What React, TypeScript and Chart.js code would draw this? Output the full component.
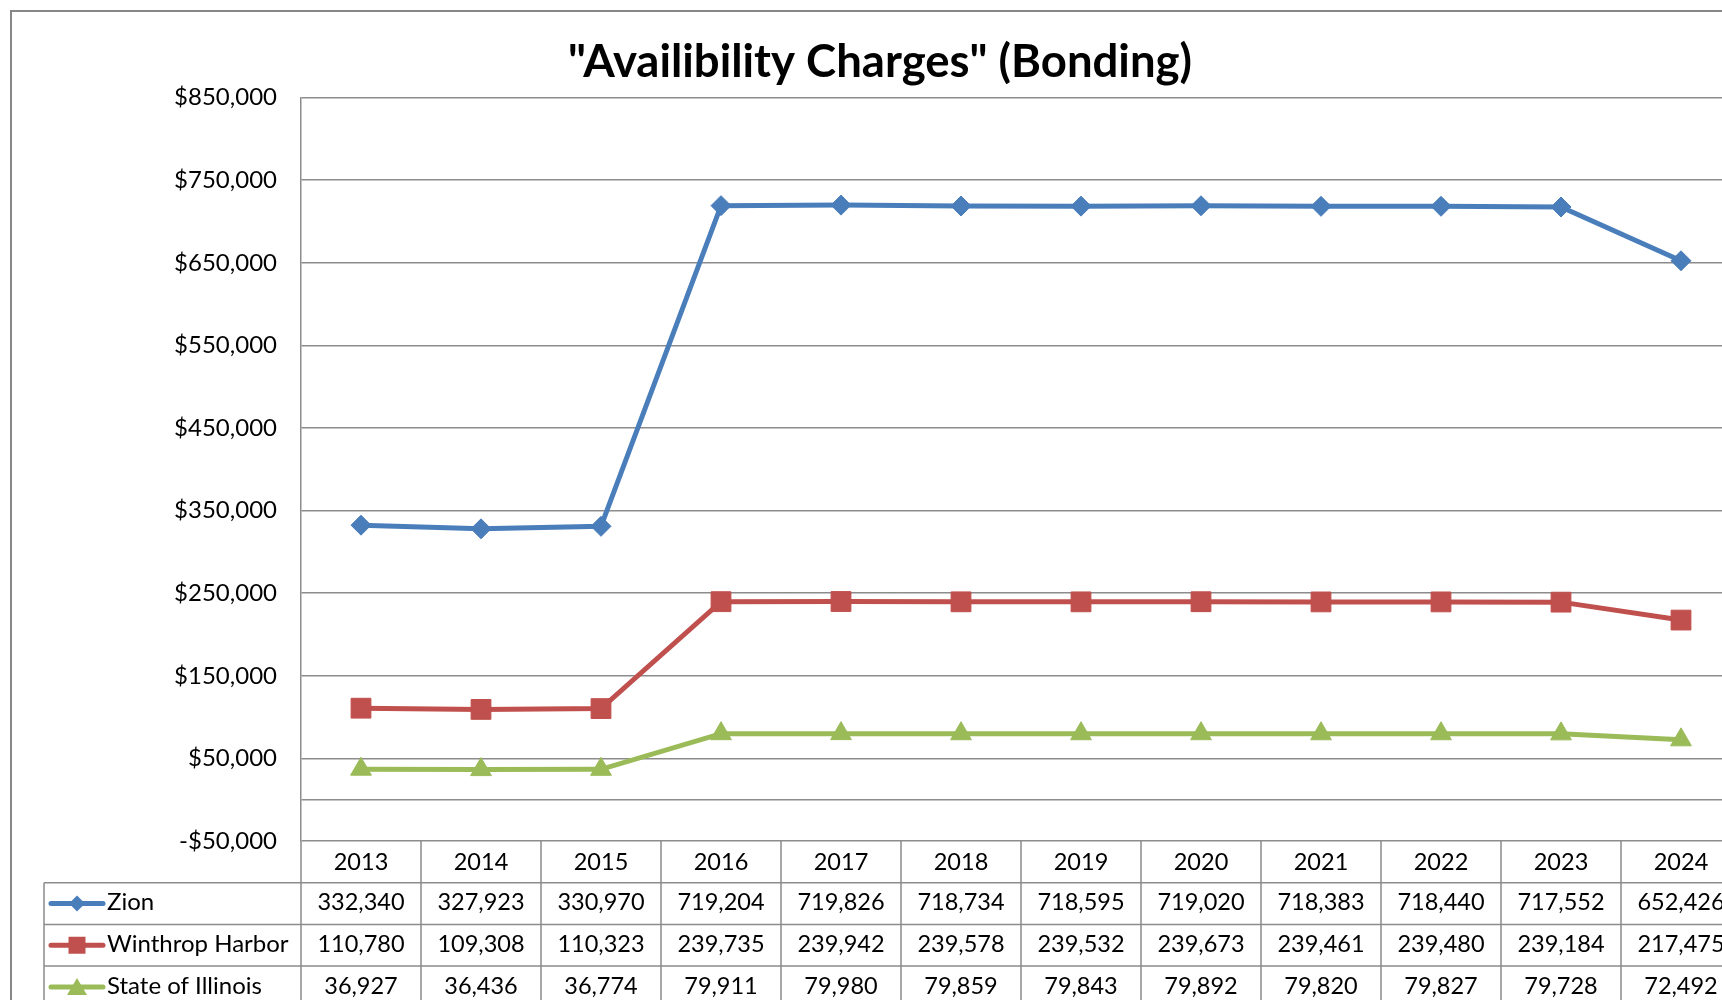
import React, { useEffect, useRef } from 'react';
import { Chart, registerables } from 'chart.js';

Chart.register(...registerables);

const years = ['2013', '2014', '2015', '2016', '2017', '2018', '2019', '2020', '2021', '2022', '2023', '2024'];
const seriesNames = ['Zion', 'Winthrop Harbor', 'State of Illinois'];
const zion = [332340, 327923, 330970, 719204, 719826, 718734, 718595, 719020, 718383, 718440, 717552, 652426];
const winthropHarbor = [110780, 109308, 110323, 239735, 239942, 239578, 239532, 239673, 239461, 239480, 239184, 217475];
const stateOfIllinois = [36927, 36436, 36774, 79911, 79980, 79859, 79843, 79892, 79820, 79827, 79728, 72492];
const yMin = -50000;
const yMax = 850000;
const yStep = 100000;
const titleText = '"Availibility Charges" (Bonding)';

const FONT = 'Lato, "Open Sans", sans-serif';
const GRID = '#8c8c8c';
const COLORS = ['#4A7EBB', '#C0504D', '#9BBB59'];
const STYLES = ['rectRot', 'rect', 'triangle'];

function money(v: number): string {
  if (v === 0) return '';
  const s = '$' + Math.abs(v).toLocaleString('en-US');
  return v < 0 ? '-' + s : s;
}

const borderPlugin = {
  id: 'outerBorder',
  beforeDraw(chart: any) {
    const { ctx, width, height } = chart;
    ctx.save();
    ctx.fillStyle = '#ffffff';
    ctx.fillRect(0, 0, width, height);
    ctx.strokeStyle = '#878787';
    ctx.lineWidth = 2;
    ctx.strokeRect(11, 11, width + 20, height + 20);
    ctx.restore();
  },
};

function drawKey(ctx: CanvasRenderingContext2D, style: string, color: string, cx: number, cy: number) {
  ctx.save();
  ctx.strokeStyle = color;
  ctx.fillStyle = color;
  ctx.lineWidth = 5;
  ctx.lineCap = 'round';
  ctx.beginPath();
  ctx.moveTo(cx - 26, cy);
  ctx.lineTo(cx + 26, cy);
  ctx.stroke();
  ctx.beginPath();
  if (style === 'rectRot') {
    const r = 8;
    ctx.moveTo(cx, cy - r);
    ctx.lineTo(cx + r, cy);
    ctx.lineTo(cx, cy + r);
    ctx.lineTo(cx - r, cy);
    ctx.closePath();
  } else if (style === 'rect') {
    const h = 8.5;
    ctx.rect(cx - h, cy - h, 2 * h, 2 * h);
  } else {
    ctx.moveTo(cx, cy - 9);
    ctx.lineTo(cx + 10, cy + 8);
    ctx.lineTo(cx - 10, cy + 8);
    ctx.closePath();
  }
  ctx.fill();
  ctx.restore();
}

const tablePlugin = {
  id: 'dataTable',
  afterDraw(chart: any) {
    const { ctx, chartArea } = chart;
    const xs = chart.scales.x;
    const n = chart.data.labels.length;
    const colW = xs.getPixelForValue(1) - xs.getPixelForValue(0);
    const top = chartArea.bottom;
    const rowH = 41.7;
    const tableLeft = 44;
    const rows = chart.data.datasets.length;
    const bottom = top + rowH * (rows + 1);
    ctx.save();
    ctx.strokeStyle = GRID;
    ctx.lineWidth = 1.5;
    ctx.beginPath();
    for (let i = 0; i <= n; i++) {
      const px = xs.getPixelForValue(i) - colW / 2;
      ctx.moveTo(px, top);
      ctx.lineTo(px, bottom);
    }
    ctx.moveTo(tableLeft, top + rowH);
    ctx.lineTo(tableLeft, bottom);
    for (let r = 1; r <= rows + 1; r++) {
      ctx.moveTo(tableLeft, top + rowH * r);
      ctx.lineTo(chartArea.right + colW, top + rowH * r);
    }
    ctx.stroke();

    ctx.fillStyle = '#000000';
    ctx.textBaseline = 'middle';
    chart.data.datasets.forEach((ds: any, r: number) => {
      const cy = top + rowH * (r + 1) + rowH / 2;
      ctx.textAlign = 'center';
      ctx.font = `23.5px ${FONT}`;
      ds.data.forEach((v: number, i: number) => {
        ctx.fillText(v.toLocaleString('en-US'), xs.getPixelForValue(i), cy - 1);
      });
      ctx.textAlign = 'left';
      ctx.font = `24px ${FONT}`;
      ctx.fillText(ds.label, 107, cy - 1);
      drawKey(ctx, STYLES[r], COLORS[r], 77, cy);
    });
    ctx.restore();
  },
};

export default function App() {
  const ref = useRef<HTMLCanvasElement | null>(null);

  useEffect(() => {
    document.body.style.margin = '0';
    const canvas = ref.current;
    if (!canvas) return;
    const seriesData = [zion, winthropHarbor, stateOfIllinois];
    const chart = new Chart(canvas, {
      type: 'line',
      data: {
        labels: years,
        datasets: seriesData.map((d, i) => ({
          label: seriesNames[i],
          data: d,
          yAxisID: 'y',
          borderColor: COLORS[i],
          backgroundColor: COLORS[i],
          borderWidth: 5,
          pointStyle: STYLES[i] as any,
          pointRadius: i === 0 ? 10 : i === 1 ? 14 : 12,
          pointBackgroundColor: COLORS[i],
          pointBorderColor: COLORS[i],
          pointBorderWidth: 1,
          tension: 0,
          fill: false,
        })),
      },
      options: {
        responsive: false,
        animation: false,
        devicePixelRatio: 1,
        layout: { padding: { left: 0, right: 0, top: 0, bottom: 0 } },
        plugins: {
          legend: { display: false },
          tooltip: { enabled: false },
          title: {
            display: true,
            text: titleText,
            color: '#000000',
            font: { family: FONT, size: 45.5, weight: 'bold', lineHeight: 1.2 },
            padding: { top: 35, bottom: 8 },
          },
        },
        scales: {
          x: {
            type: 'category',
            offset: true,
            grid: { display: false, drawTicks: false },
            border: { display: false },
            ticks: {
              color: '#000000',
              font: { family: FONT, size: 23.5 },
              padding: 7,
              autoSkip: false,
              maxRotation: 0,
            },
            afterFit: (s: any) => {
              s.height = 159;
            },
          },
          y: {
            type: 'linear',
            position: 'left',
            min: yMin,
            max: yMax,
            grid: { color: GRID, lineWidth: 1.5, drawTicks: false },
            border: { display: true, color: GRID, width: 1.5 },
            ticks: {
              stepSize: yStep,
              color: '#000000',
              font: { family: FONT, size: 24 },
              padding: 24,
              callback: (v: any) => money(Number(v)),
            },
            afterBuildTicks: (s: any) => {
              if (!s.ticks.some((t: any) => t.value === 0)) {
                s.ticks.push({ value: 0 });
                s.ticks.sort((a: any, b: any) => a.value - b.value);
              }
            },
            afterFit: (s: any) => {
              s.width = 301;
            },
          },
          spacer: {
            type: 'linear',
            position: 'right',
            display: true,
            grid: { display: false, drawTicks: false },
            border: { display: false },
            ticks: { display: false },
            afterFit: (s: any) => {
              s.width = 19;
            },
          },
        },
      },
      plugins: [borderPlugin, tablePlugin],
    });
    return () => chart.destroy();
  }, []);

  return (
    <div style={{ position: 'fixed', left: 0, top: 0, width: 1722, height: 1000, overflow: 'hidden', background: '#fff' }}>
      <canvas ref={ref} width={1760} height={1000} style={{ display: 'block', width: 1760, height: 1000 }} />
    </div>
  );
}
